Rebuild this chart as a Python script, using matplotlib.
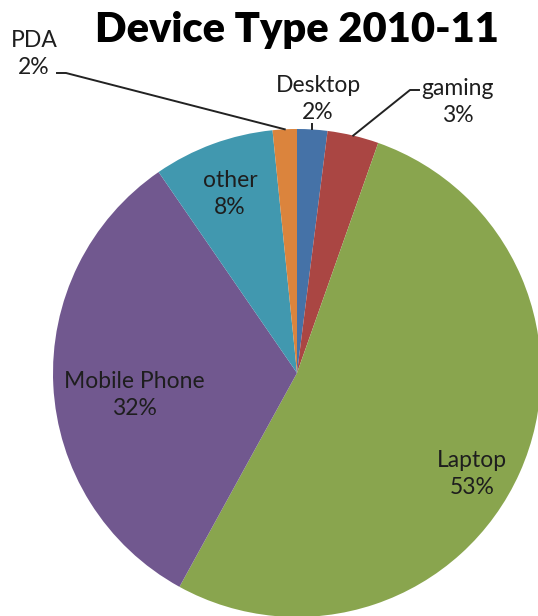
import numpy as np
import matplotlib.pyplot as plt

# device share, clockwise from 12 o'clock
devices = ["Desktop", "gaming", "Laptop", "Mobile Phone", "other", "PDA"]
shares = [2.0, 3.4, 52.6, 32.4, 8.0, 1.6]
colors = ["#4572A7", "#AA4643", "#89A54E", "#71588F", "#4198AF", "#DB843D"]

W, H = 538, 616
cx, cy, R = 297, H - 373, 244

fig = plt.figure(figsize=(W / 100, H / 100), dpi=100)
ax = fig.add_axes([0, 0, 1, 1])

wedges, _ = ax.pie(shares, colors=colors, startangle=90, counterclock=False,
                   center=(cx, cy), radius=R, frame=True,
                   wedgeprops=dict(linewidth=0))
ax.set_xlim(0, W)
ax.set_ylim(0, H)
ax.set_aspect("equal")
ax.axis("off")

plt.rcParams["font.family"] = ["Lato", "DejaVu Sans"]
txt = "#1e1e1e"
fs = 16.5
ls = 1.4

def lab(i):
    return "%s\n%d%%" % (devices[i], round(shares[i]))

def edge_point(i, f=1.0):
    w = wedges[i]
    a = np.deg2rad((w.theta1 + w.theta2) / 2)
    return cx + f * R * np.cos(a), cy + f * R * np.sin(a)

# labels inside the pie
inside = {"other": (230, 194), "Mobile Phone": (134, 395), "Laptop": (472, 474)}
for name, (x, y) in inside.items():
    i = devices.index(name)
    ax.text(x, H - y, lab(i), ha="center", va="center", fontsize=fs,
            color=txt, linespacing=ls)

# labels outside with leader lines
ax.text(34, H - 54, lab(devices.index("PDA")), ha="center", va="center",
        fontsize=fs, color=txt, linespacing=ls)
px, py = edge_point(devices.index("PDA"))
ax.plot([57, 66, px], [H - 73, H - 73, py], color="#222222", lw=1.4)

ax.text(318, H - 99, lab(devices.index("Desktop")), ha="center", va="center",
        fontsize=fs, color=txt, linespacing=ls)
dx, dy = edge_point(devices.index("Desktop"))
ax.plot([dx, dx], [H - 124, dy], color="#222222", lw=1.4)

ax.text(458, H - 102, lab(devices.index("gaming")), ha="center", va="center",
        fontsize=fs, color=txt, linespacing=ls)
gx, gy = edge_point(devices.index("gaming"))
ax.plot([419, 410, gx], [H - 90, H - 90, gy], color="#222222", lw=1.4)

ax.text(297, H - 30, "Device Type 2010-11", ha="center", va="center",
        fontsize=30, fontweight="heavy", color="black")

fig.savefig("out.png", dpi=100)
